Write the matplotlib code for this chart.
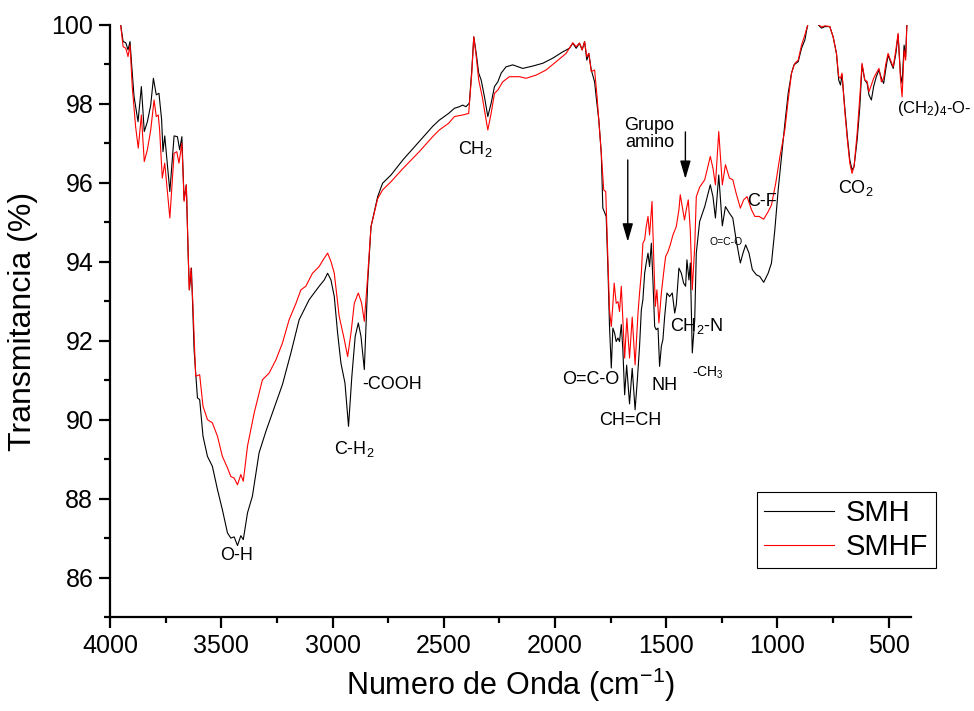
import matplotlib
matplotlib.use("Agg")
import matplotlib.pyplot as plt
from matplotlib.ticker import MultipleLocator

plt.rcParams['font.family'] = ['Liberation Sans', 'DejaVu Sans']
plt.rcParams['mathtext.fontset'] = 'custom'
plt.rcParams['mathtext.rm'] = 'Liberation Sans'
plt.rcParams['mathtext.it'] = 'Liberation Sans:italic'

# ---- data (wavenumber cm-1, transmittance %) ----
smh_wn = [3965, 3952, 3941, 3929, 3919, 3910, 3902, 3892, 3874, 3859, 3846, 3832, 3817, 3805,
          3792, 3780, 3768, 3762, 3754, 3731, 3712, 3697, 3687, 3677, 3667, 3657, 3648, 3643,
          3634, 3622, 3607, 3597, 3582, 3562, 3540, 3517, 3495, 3472, 3457, 3442, 3427, 3412,
          3401, 3382, 3360, 3330, 3299, 3270, 3225, 3187, 3150, 3105, 3060, 3037, 3022, 3007,
          2992, 2977, 2962, 2944, 2928, 2913, 2898, 2884, 2872, 2857, 2842, 2827, 2797, 2775,
          2737, 2684, 2610, 2550, 2520, 2478, 2452, 2430, 2415, 2400, 2385, 2374, 2365, 2354,
          2343, 2332, 2317, 2302, 2287, 2272, 2257, 2242, 2220, 2190, 2145, 2100, 2055, 2010,
          1965, 1935, 1920, 1905, 1890, 1878, 1867, 1857, 1848, 1837, 1822, 1815, 1803, 1792,
          1785, 1770, 1762, 1755, 1747, 1740, 1732, 1725, 1717, 1710, 1702, 1695, 1687, 1678,
          1665, 1653, 1640, 1630, 1620, 1612, 1605, 1597, 1590, 1582, 1575, 1567, 1560, 1552,
          1545, 1537, 1530, 1522, 1515, 1507, 1497, 1485, 1473, 1462, 1455, 1443, 1432, 1422,
          1413, 1407, 1398, 1392, 1383, 1372, 1365, 1350, 1327, 1302, 1290, 1279, 1264, 1248,
          1234, 1216, 1201, 1186, 1167, 1155, 1143, 1128, 1113, 1095, 1080, 1062, 1042, 1027,
          1012, 997, 982, 967, 952, 937, 926, 907, 892, 877, 869, 862, 840, 825, 802, 787,
          765, 750, 735, 725, 717, 710, 698, 686, 675, 665, 656, 642, 630, 620, 608, 597,
          589, 578, 568, 556, 544, 533, 523, 514, 503, 492, 480, 468, 458, 447, 440, 431,
          424, 418, 410]
smh_t = [100.3, 100.0, 99.58, 99.55, 99.37, 99.58, 98.94, 98.19, 97.55, 98.44, 97.30, 97.55, 97.97, 98.65,
         98.23, 98.27, 97.6, 96.79, 97.19, 95.78, 97.19, 97.17, 96.84, 97.17, 95.57, 95.95, 94.05, 93.29,
         93.84, 91.77, 90.55, 90.51, 89.58, 89.07, 88.82, 88.23, 87.72, 87.13, 87.0, 87.03, 86.81, 87.06,
         86.96, 87.64, 88.06, 89.16, 89.71, 90.17, 90.89, 91.69, 92.53, 93.04, 93.38, 93.54, 93.71, 93.54,
         93.12, 92.19, 91.43, 90.93, 89.83, 91.1, 92.11, 92.45, 92.11, 91.27, 93.46, 94.89, 95.65, 95.99,
         96.2, 96.58, 97.05, 97.43, 97.59, 97.76, 97.89, 97.93, 97.97, 97.93, 98.02, 98.86, 99.70, 99.28,
         98.78, 98.61, 98.18, 97.68, 98.02, 98.44, 98.56, 98.78, 98.94, 98.99, 98.9, 98.96, 99.03, 99.16,
         99.32, 99.41, 99.54, 99.41, 99.54, 99.37, 99.58, 99.11, 99.28, 98.86, 98.56, 98.18, 97.59, 96.75,
         95.36, 95.15, 93.8, 92.36, 91.31, 92.32, 92.19, 91.98, 92.07, 91.98, 92.41, 91.77, 90.63, 91.38,
         90.4, 91.3, 90.25, 91.0, 91.86, 92.78, 93.04, 93.71, 93.97, 94.22, 93.88, 94.47, 93.54, 92.36,
         92.28, 92.32, 91.35, 91.86, 92.03, 92.62, 93.21, 93.12, 93.21, 92.7, 92.91, 93.84, 93.71, 93.46,
         93.38, 94.05, 93.54, 93.97, 91.69, 92.53, 94.22, 95.02, 95.4, 95.95, 95.65, 95.11, 96.2, 94.91,
         95.4, 95.23, 95.11, 94.56, 93.97, 94.22, 94.43, 94.22, 93.8, 93.67, 93.63, 93.48, 93.71, 93.97,
         94.81, 95.82, 96.67, 97.5, 98.27, 98.78, 98.99, 99.07, 99.41, 99.62, 99.87, 100.05, 100.2, 100.05, 99.92, 99.96,
         99.96, 99.7, 99.28, 98.61, 98.48, 98.73, 97.93, 97.17, 96.58, 96.33, 96.41, 97.09, 97.93, 98.99, 98.61, 98.52,
         98.23, 98.1, 98.44, 98.69, 98.86, 98.65, 98.52, 98.86, 99.24, 99.07, 98.9, 99.28, 99.75, 98.73, 98.52, 99.49,
         99.2, 100.1, 100.5]

smhf_wn = [3965, 3952, 3941, 3929, 3919, 3910, 3900, 3885, 3873, 3859, 3846, 3832, 3817, 3802,
           3792, 3783, 3777, 3765, 3754, 3731, 3712, 3700, 3690, 3677, 3667, 3657, 3644, 3636,
           3628, 3615, 3597, 3582, 3562, 3540, 3517, 3495, 3472, 3457, 3442, 3427, 3412, 3401,
           3382, 3352, 3315, 3285, 3254, 3225, 3195, 3164, 3142, 3120, 3090, 3060, 3042, 3022,
           3007, 2992, 2970, 2947, 2932, 2917, 2902, 2884, 2869, 2857, 2842, 2827, 2797, 2775,
           2737, 2684, 2610, 2550, 2520, 2478, 2452, 2415, 2388, 2374, 2365, 2354, 2343, 2327,
           2302, 2287, 2272, 2257, 2235, 2205, 2160, 2130, 2085, 2040, 1995, 1950, 1920, 1905,
           1890, 1878, 1867, 1857, 1848, 1837, 1822, 1811, 1800, 1792, 1781, 1772, 1762, 1755,
           1747, 1740, 1734, 1725, 1717, 1710, 1702, 1695, 1687, 1677, 1665, 1653, 1640, 1627,
           1620, 1612, 1605, 1597, 1590, 1582, 1575, 1564, 1557, 1549, 1542, 1533, 1522, 1512,
           1503, 1492, 1482, 1470, 1455, 1443, 1437, 1428, 1418, 1410, 1401, 1392, 1383, 1372,
           1365, 1350, 1327, 1302, 1290, 1279, 1264, 1248, 1234, 1216, 1201, 1186, 1167, 1152,
           1137, 1117, 1102, 1083, 1062, 1042, 1027, 1008, 989, 967, 952, 937, 922, 907,
           892, 877, 862, 840, 825, 802, 787, 765, 750, 735, 725, 717, 710, 698,
           686, 675, 665, 656, 642, 630, 620, 608, 597, 589, 578, 568, 556, 544,
           533, 523, 514, 503, 492, 480, 468, 458, 447, 440, 431, 424, 418, 410]
smhf_t = [100.3, 100.0, 99.45, 99.41, 99.2, 99.49, 98.44, 97.43, 96.88, 97.72, 96.54, 96.84, 97.34, 98.1,
          97.68, 97.72, 97.34, 96.12, 96.5, 95.11, 96.75, 96.79, 96.5, 97.0, 95.53, 95.95, 93.29, 93.84,
          93.0, 91.1, 91.14, 90.34, 90.0, 89.92, 89.58, 89.07, 88.78, 88.56, 88.52, 88.35, 88.61, 88.44,
          89.33, 90.17, 91.01, 91.18, 91.52, 91.94, 92.53, 92.95, 93.29, 93.38, 93.71, 93.88, 94.05, 94.22,
          94.01, 93.71, 92.62, 92.03, 91.6, 92.19, 92.95, 93.21, 92.95, 92.49, 93.63, 94.89, 95.6, 95.82,
          96.03, 96.36, 96.79, 97.17, 97.34, 97.51, 97.68, 97.72, 97.76, 98.78, 99.70, 99.2, 98.61, 98.18,
          97.34, 97.76, 98.27, 98.35, 98.56, 98.69, 98.69, 98.65, 98.73, 98.86, 99.07, 99.28, 99.55, 99.45,
          99.54, 99.37, 99.58, 99.2, 99.28, 98.82, 98.86, 98.18, 97.34, 96.75, 95.82, 95.78, 94.05, 92.78,
          92.36, 92.91, 93.46, 92.95, 92.99, 92.74, 93.38, 92.53, 91.56, 92.57, 91.56, 92.6, 91.39, 92.7,
          93.21, 93.71, 94.47, 94.56, 94.89, 95.15, 94.68, 95.53, 94.22, 92.87, 93.29, 92.45, 93.21, 93.71,
          94.13, 94.26, 94.43, 94.68, 94.89, 95.32, 95.7, 95.4, 95.06, 95.32, 95.57, 94.81, 93.29, 94.39,
          95.65, 95.89, 96.08, 96.67, 96.37, 95.95, 97.3, 95.95, 96.46, 96.12, 96.08, 95.74, 95.36, 95.57,
          95.65, 95.32, 95.15, 95.15, 95.08, 95.27, 95.44, 95.99, 96.67, 97.34, 98.1, 98.78, 99.03, 99.11,
          99.49, 99.75, 100.05, 100.2, 100.05, 99.95, 99.98, 99.96, 99.7, 99.28, 98.69, 98.65, 98.78, 97.85,
          97.09, 96.5, 96.24, 96.41, 97.26, 98.18, 99.03, 98.61, 98.57, 98.31, 98.48, 98.65, 98.78, 98.9,
          98.56, 98.65, 98.99, 99.28, 99.11, 98.94, 99.37, 99.79, 98.61, 98.18, 99.37, 99.11, 100.1, 100.5]

fig = plt.figure(figsize=(9.74, 7.11), dpi=100)
ax = fig.add_axes([110/974, 1-617/711, (911-110)/974, (617-25)/711])

ax.plot(smh_wn, smh_t, color="black", lw=0.8, label="SMH")
ax.plot(smhf_wn, smhf_t, color="red", lw=0.8, label="SMHF")

ax.set_xlim(4000, 400)
ax.set_ylim(85, 100)
ax.xaxis.set_major_locator(MultipleLocator(500))
ax.xaxis.set_minor_locator(MultipleLocator(250))
ax.yaxis.set_minor_locator(MultipleLocator(1))
ax.set_yticks([86, 88, 90, 92, 94, 96, 98, 100])
for s in ["top", "right"]:
    ax.spines[s].set_visible(False)
for s in ["left", "bottom"]:
    ax.spines[s].set_linewidth(1.6)
ax.tick_params(which="major", direction="out", length=8, width=1.6, labelsize=18, pad=4)
ax.tick_params(which="minor", direction="out", length=4.5, width=1.6)

ax.set_xlabel("Numero de Onda (cm$^{-1}$)", fontsize=22, labelpad=6)
ax.set_ylabel("Transmitancia (%)", fontsize=23, labelpad=10)

fs = 13
notes = [
    ("O-H", 3433, 86.56, fs),
    ("C-H$\\mathregular{_2}$", 2902, 89.25, fs),
    ("-COOH", 2731, 90.89, fs),
    ("CH$\\mathregular{_2}$", 2357, 96.85, fs),
    ("O=C-O", 1840, 91.01, fs),
    ("CH=CH", 1660, 89.97, fs),
    ("NH", 1507, 90.86, fs),
    ("CH$\\mathregular{_2}$-N", 1363, 92.38, fs),
    ("-CH$\\mathregular{_3}$", 1314, 91.2, 10),
    ("O=C-O", 1233, 94.51, 7.5),
    ("C-F", 1070, 95.54, fs),
    ("CO$\\mathregular{_2}$", 650, 95.87, fs),
]
for txt, x, y, f in notes:
    ax.text(x, y, txt, ha="center", va="center", fontsize=f)
ax.text(461, 97.88, "(CH$\\mathregular{_2}$)$\\mathregular{_4}$-O-", ha="left", va="center",
        fontsize=12, clip_on=False)
ax.text(1575, 97.24, "Grupo\namino", ha="center", va="center", fontsize=fs, linespacing=0.95)

arrow = dict(arrowstyle="-|>,head_length=0.55,head_width=0.16", color="black", lw=1.0,
             shrinkA=0, shrinkB=0, mutation_scale=20)
ax.annotate("", xy=(1673, 94.51), xytext=(1673, 96.58), arrowprops=arrow)
ax.annotate("", xy=(1414, 96.1), xytext=(1414, 97.29), arrowprops=arrow)

leg = ax.legend(loc="upper left", bbox_to_anchor=(757/974, 1-492/711), bbox_transform=fig.transFigure,
                fontsize=21, frameon=True, fancybox=False, edgecolor="black", framealpha=1,
                borderaxespad=0, handlelength=2.4, handletextpad=0.4, borderpad=0.25,
                labelspacing=0.2)
leg.get_frame().set_linewidth(0.8)

plt.savefig("out.png", dpi=100)
